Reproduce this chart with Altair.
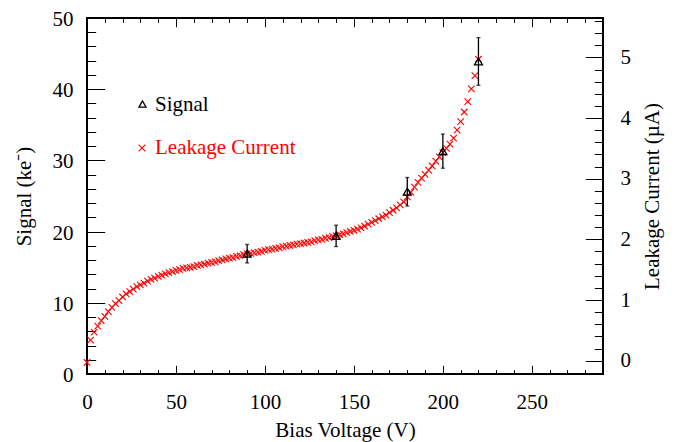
import altair as alt
import pandas as pd
import numpy as np

# ---- data ----
leak_v = [0, 2, 4, 6, 8, 10, 12, 14, 16, 18, 20, 22, 24, 26, 28, 30, 32, 34, 36, 38,
          40, 42, 44, 46, 48, 50, 52, 54, 56, 58, 60, 62, 64, 66, 68, 70, 72, 74, 76, 78,
          80, 82, 84, 86, 88, 90, 92, 94, 96, 98, 100, 102, 104, 106, 108, 110, 112, 114, 116, 118,
          120, 122, 124, 126, 128, 130, 132, 134, 136, 138, 140, 142, 144, 146, 148, 150, 152, 154, 156, 158,
          160, 162, 164, 166, 168, 170, 172, 174, 176, 178, 180, 182, 184, 186, 188, 190, 192, 194, 196, 198,
          200, 202, 204, 206, 208, 210, 212, 214, 216, 218, 220]
leak_i = [-0.03, 0.34, 0.47, 0.57, 0.66, 0.73, 0.81, 0.88, 0.94, 0.99, 1.05, 1.10, 1.14, 1.18, 1.22, 1.25, 1.28, 1.31, 1.34, 1.36,
          1.39, 1.41, 1.43, 1.45, 1.47, 1.49, 1.50, 1.52, 1.53, 1.54, 1.55, 1.57, 1.58, 1.59, 1.61, 1.62, 1.63, 1.65, 1.66, 1.68,
          1.69, 1.70, 1.72, 1.73, 1.75, 1.76, 1.77, 1.78, 1.79, 1.80, 1.82, 1.83, 1.84, 1.85, 1.86, 1.88, 1.89, 1.90, 1.91, 1.92,
          1.93, 1.94, 1.95, 1.96, 1.98, 1.99, 2.00, 2.02, 2.03, 2.05, 2.06, 2.08, 2.09, 2.11, 2.13, 2.15, 2.17, 2.19, 2.22, 2.25,
          2.28, 2.31, 2.34, 2.37, 2.40, 2.44, 2.48, 2.52, 2.57, 2.62, 2.70, 2.78, 2.86, 2.94, 3.01, 3.07, 3.14, 3.21, 3.29, 3.36,
          3.43, 3.50, 3.57, 3.67, 3.80, 3.94, 4.10, 4.27, 4.48, 4.70, 4.97]

sig_v = [90, 140, 180, 200, 220]
sig_s = [16.9, 19.4, 25.6, 31.3, 43.9]
sig_err = [1.3, 1.5, 2.0, 2.4, 3.35]

x_major = [0, 50, 100, 150, 200, 250]
x_minor = [0, 10, 20, 30, 40, 50, 60, 70, 80, 90, 100, 110, 120, 130, 140, 150, 160, 170, 180, 190,
           200, 210, 220, 230, 240, 250, 260, 270, 280, 290]
yl_major = [0, 10, 20, 30, 40, 50]
yl_minor = [0, 2, 4, 6, 8, 10, 12, 14, 16, 18, 20, 22, 24, 26, 28, 30, 32, 34, 36, 38, 40, 42, 44, 46, 48, 50]
yr_major = [0, 1, 2, 3, 4, 5]
yr_minor = [-0.2, 0, 0.2, 0.4, 0.6, 0.8, 1.0, 1.2, 1.4, 1.6, 1.8, 2.0, 2.2, 2.4, 2.6, 2.8, 3.0,
            3.2, 3.4, 3.6, 3.8, 4.0, 4.2, 4.4, 4.6, 4.8, 5.0, 5.2, 5.4, 5.6]

legend_labels = ["Signal", "Leakage Current"]

FONT = "Liberation Serif"
FS = 21

leak_df = pd.DataFrame({"V": leak_v, "I": leak_i})
sig_df = pd.DataFrame({"V": sig_v, "S": sig_s, "err": sig_err})
sig_df["lo"] = sig_df["S"] - sig_df["err"]
sig_df["hi"] = sig_df["S"] + sig_df["err"]
caps_df = pd.DataFrame({"V": list(sig_v) * 2,
                        "y": list(sig_df["lo"]) + list(sig_df["hi"])})

xs = alt.Scale(domain=[0, 290], nice=False, zero=False)
yls = alt.Scale(domain=[0, 50], nice=False, zero=False)
yrs = alt.Scale(domain=[-0.22, 5.65], nice=False, zero=False)

MAJ_X, MIN_X = 8.7, 4.3
MAJ_Y, MIN_Y = 17.7, 8.7

def ax(orient, values, size, labels=False, title=None, **kw):
    d = dict(orient=orient, values=values, tickSize=size, offset=-size, domain=False,
             grid=False, labels=labels, labelFlush=False, labelOverlap=False,
             tickColor="black", tickWidth=1,
             labelFont=FONT, labelFontSize=FS, labelColor="black",
             titleFont=FONT, titleFontSize=FS, titleColor="black", titleFontWeight="normal")
    d["title"] = title if title is not None else None
    d.update(kw)
    return alt.Axis(**d)

SYM_X = "M-1,-1L1,1M-1,1L1,-1"

# leakage current (right axis)
leak = alt.Chart(leak_df).mark_point(shape=SYM_X, size=42, filled=False, color="#ff0000",
                                     strokeWidth=1.1, opacity=1).encode(
    x=alt.X("V:Q", scale=xs, axis=ax("top", x_major, MAJ_X)),
    y=alt.Y("I:Q", scale=yrs, axis=ax("right", yr_major, MAJ_Y, labels=True,
                                        title="Leakage Current (µA)", labelPadding=17,
                                        titleAngle=270, titleBaseline="top", titlePadding=11)),
)
leak_minor = alt.Chart(leak_df).mark_point(opacity=0).encode(
    x=alt.X("V:Q", scale=xs, axis=ax("top", x_minor, MIN_X)),
    y=alt.Y("I:Q", scale=yrs, axis=ax("right", yr_minor, MIN_Y)),
)
leak_group = alt.layer(leak, leak_minor).resolve_axis(x="independent", y="independent")

# signal (left axis)
rules = alt.Chart(sig_df).mark_rule(color="black", strokeWidth=1.3).encode(
    x=alt.X("V:Q", scale=xs, axis=ax("bottom", x_major, MAJ_X, labels=True,
                                       title="Bias Voltage (V)", labelPadding=17, titlePadding=7)),
    y=alt.Y("lo:Q", scale=yls, axis=ax("left", yl_major, MAJ_Y, labels=True,
                                        title="Signal (ke⁻)", labelPadding=14, titlePadding=18,
                                        labelOffset=1.5)),
    y2="hi:Q",
)
caps = alt.Chart(caps_df).mark_tick(orient="horizontal", color="black", size=4, thickness=1.3).encode(
    x=alt.X("V:Q", scale=xs, axis=None),
    y=alt.Y("y:Q", scale=yls, axis=None),
)
tri = alt.Chart(sig_df).mark_point(shape="triangle-up", size=64, filled=False, color="black",
                                   strokeWidth=1.3, opacity=1).encode(
    x=alt.X("V:Q", scale=xs, axis=ax("bottom", x_minor, MIN_X)),
    y=alt.Y("S:Q", scale=yls, axis=ax("left", yl_minor, MIN_Y)),
)
sig_group = alt.layer(rules, caps, tri).resolve_axis(x="independent", y="independent")

# legend
leg1_df = pd.DataFrame({"label": [legend_labels[0]]})
leg2_df = pd.DataFrame({"label": [legend_labels[1]]})
leg1_sym = alt.Chart(leg1_df).mark_point(shape="triangle-up", size=50, filled=False, color="black",
                                         strokeWidth=1.3, opacity=1).encode(
    x=alt.value(55.5), y=alt.value(86))
leg1_txt = alt.Chart(leg1_df).mark_text(align="left", baseline="alphabetic", font=FONT,
                                        fontSize=FS, color="black").encode(
    x=alt.value(68), y=alt.value(92.5), text="label:N")
leg2_sym = alt.Chart(leg2_df).mark_point(shape=SYM_X, size=46, filled=False, color="#ff0000",
                                         strokeWidth=1.1, opacity=1).encode(
    x=alt.value(55), y=alt.value(130))
leg2_txt = alt.Chart(leg2_df).mark_text(align="left", baseline="alphabetic", font=FONT,
                                        fontSize=FS, color="#ff0000").encode(
    x=alt.value(68), y=alt.value(136), text="label:N")

chart = alt.layer(leak_group, sig_group, leg1_sym, leg1_txt, leg2_sym, leg2_txt).resolve_scale(
    y="independent").resolve_axis(x="independent", y="independent").properties(
    width=516, height=356,
    autosize=alt.AutoSizeParams(type="none"),
    padding={"left": 79, "top": 10, "right": 65, "bottom": 68},
    background="white",
).configure_view(stroke="black", strokeWidth=2)

chart.save("out.html", embed_options={"renderer": "svg", "actions": False})
